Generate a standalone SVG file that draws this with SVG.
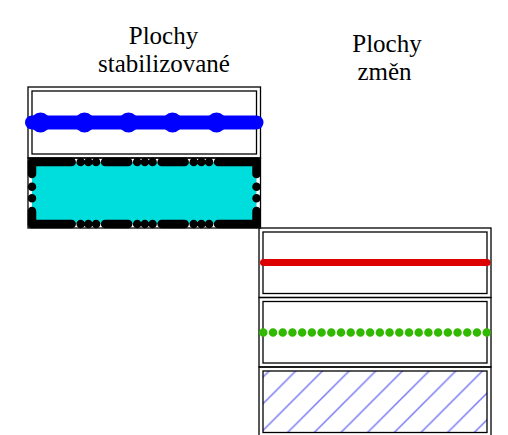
<svg xmlns="http://www.w3.org/2000/svg" width="508" height="435" viewBox="0 0 508 435">
<style>
.lbl{font-size:25px;fill:#000;text-anchor:middle}
.frame{fill:none;stroke:#000;stroke-width:1.3}
.band{fill:none;stroke:#000;stroke-width:8.5;stroke-linecap:round}
.bandH{stroke-dasharray:39.7 9 0 7.7 0 7.7 0 9 23.1 9 0 7.7 0 7.7 0 9 23.1 9 0 7.7 0 7.7 0 9 40}
.bandV{stroke-dasharray:12 12.7 0 11.6 0 12.7 14}
</style>
<defs>
<pattern id="hatch" patternUnits="userSpaceOnUse" width="26.67" height="26.67">
<path d="M0,26.67 L26.67,0 M-3,3 L3,-3 M23.67,29.67 L29.67,23.67" stroke="#7a7af2" stroke-width="1.5" fill="none"/>
</pattern>
</defs>
<rect width="508" height="435" fill="#fff"/>
<g id="header-stabilizovane" font-family="Liberation Serif, DejaVu Serif, serif">
<text class="lbl" x="163.5" y="43.5">Plochy</text>
<text class="lbl" x="164" y="72">stabilizované</text>
</g>
<g id="header-zmen" font-family="Liberation Serif, DejaVu Serif, serif">
<text class="lbl" x="387" y="52">Plochy</text>
<text class="lbl" x="384.5" y="80">změn</text>
</g>
<g id="cell-blue">
<rect class="frame" x="28" y="87" width="232.5" height="71"/>
<rect class="frame" x="32" y="91" width="224.5" height="63"/>
<line x1="32" y1="122.5" x2="256.5" y2="122.5" stroke="#0000ff" stroke-width="14" stroke-linecap="round"/>
<line x1="32" y1="122.5" x2="256.5" y2="122.5" stroke="#0000ff" stroke-width="20" stroke-linecap="round" stroke-dasharray="0 44" stroke-dashoffset="-8.5"/>
</g>
<g id="cell-cyan">
<rect class="frame" x="28" y="158" width="232.5" height="70"/>
<rect x="32" y="162" width="224.5" height="62" fill="#00dddd"/>
<line class="band bandH" x1="32" y1="162" x2="256.5" y2="162"/>
<line class="band bandH" x1="32" y1="224" x2="256.5" y2="224"/>
<line class="band bandV" x1="32" y1="162" x2="32" y2="224"/>
<line class="band bandV" x1="256.5" y1="162" x2="256.5" y2="224"/>
</g>
<g id="cell-red">
<rect class="frame" x="259" y="228" width="232" height="69.5"/>
<rect class="frame" x="263" y="232" width="224" height="61.5"/>
<line x1="263.5" y1="262.5" x2="487" y2="262.5" stroke="#dc0000" stroke-width="7" stroke-linecap="round"/>
</g>
<g id="cell-green">
<rect class="frame" x="259" y="297.5" width="232" height="69.5"/>
<rect class="frame" x="263" y="301.5" width="224" height="61.5"/>
<line x1="263.3" y1="332.5" x2="486.7" y2="332.5" stroke="#31b900" stroke-width="8.5" stroke-linecap="round" stroke-dasharray="0 9.713"/>
</g>
<g id="cell-hatch">
<rect class="frame" x="259" y="367" width="232" height="69.5"/>
<rect x="263" y="371" width="224" height="61.5" fill="url(#hatch)"/>
<rect class="frame" x="263" y="371" width="224" height="61.5"/>
</g>
<g id="connectors"></g>
</svg>
